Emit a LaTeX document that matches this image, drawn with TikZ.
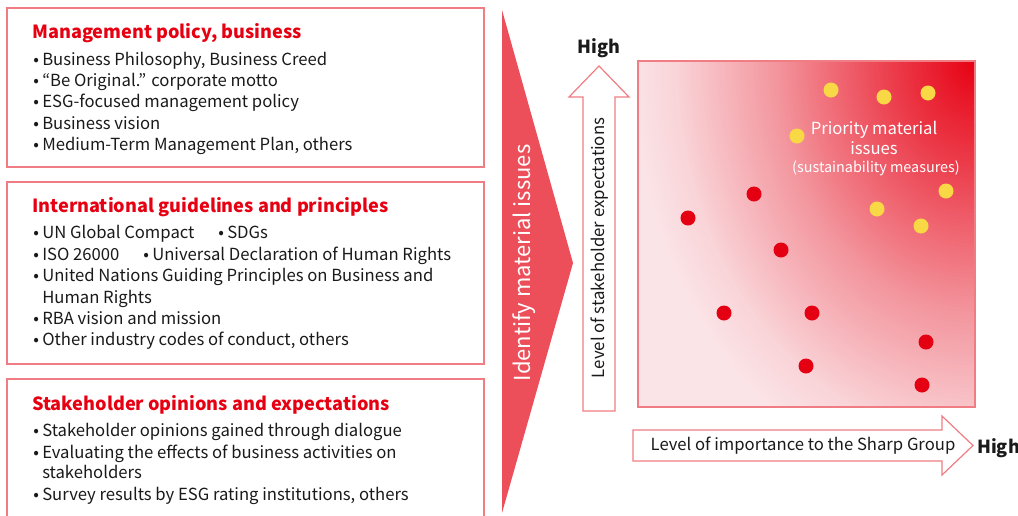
\documentclass[tikz,border=0pt]{standalone}
\usepackage{fontspec}
\setmainfont{Noto Sans CJK JP}
\definecolor{titlered}{RGB}{230,0,18}
\definecolor{boxline}{RGB}{240,125,132}
\definecolor{trifill}{RGB}{236,78,90}
\definecolor{txt}{RGB}{26,26,26}
\definecolor{dotred}{RGB}{228,0,18}
\definecolor{dotyellow}{RGB}{249,216,70}
\definecolor{sA}{RGB}{230,0,18}
\definecolor{sB}{RGB}{237,72,86}
\definecolor{sC}{RGB}{243,150,158}
\definecolor{sD}{RGB}{249,212,216}
\definecolor{sE}{RGB}{251,228,231}
\newcommand\bul{\makebox[6.75pt][l]{•}}
\begin{document}
\begin{tikzpicture}[x=0.75pt,y=-0.75pt,
  box/.style={draw=boxline, line width=0.9pt},
  title/.style={anchor=base west, inner sep=0, text=titlered, font=\fontsize{13.6}{16}\selectfont\bfseries},
  item/.style={anchor=base west, inner sep=0, text=txt, font=\fontsize{12.5}{14}\selectfont},
  reddot/.style={circle, fill=dotred, minimum size=11.25pt, inner sep=0},
  yeldot/.style={circle, fill=dotyellow, minimum size=11.25pt, inner sep=0},
  arrowshape/.style={draw=boxline, line width=0.9pt, fill=white},
  high/.style={inner sep=0, text=txt, font=\fontsize{13.5}{15}\selectfont\bfseries}]
\clip (0,0) rectangle (1018,515);
\fill[white] (0,0) rectangle (1018,515);

% Box 1
\draw[box] (7,8) rectangle (484,167);
\node[title] (t1) at (32,38) {Management policy, business};
\node[item] (a1) at (33,65) {\bul Business Philosophy, Business Creed};
\node[item] (a2) at (33,86) {\bul “Be Original.” corporate motto};
\node[item] (a3) at (33,107) {\bul ESG-focused management policy};
\node[item] (a4) at (33,129) {\bul Business vision};
\node[item] (a5) at (33,150) {\bul Medium-Term Management Plan, others};

% Box 2
\draw[box] (7,182) rectangle (484,364);
\node[title] (t2) at (32,212) {International guidelines and principles};
\node[item] (b1) at (33,238) {\bul UN Global Compact};
\node[item] (b1b) at (218,238) {\bul SDGs};
\node[item] (b2) at (33,260) {\bul ISO 26000};
\node[item] (b2b) at (143,260) {\bul Universal Declaration of Human Rights};
\node[item] (b3) at (33,281) {\bul United Nations Guiding Principles on Business and};
\node[item] (b3b) at (42,303) {Human Rights};
\node[item] (b4) at (33,324) {\bul RBA vision and mission};
\node[item] (b5) at (33,345) {\bul Other industry codes of conduct, others};

% Box 3
\draw[box] (7,379) rectangle (484,530);
\node[title] (t3) at (32,410) {Stakeholder opinions and expectations};
\node[item] (c1) at (33,436) {\bul Stakeholder opinions gained through dialogue};
\node[item] (c2) at (33,458) {\bul Evaluating the effects of business activities on};
\node[item] (c2b) at (42,478) {stakeholders};
\node[item] (c3) at (33,500) {\bul Survey results by ESG rating institutions, others};

% Big triangle
\fill[trifill] (502,10) -- (573,263) -- (502,513) -- cycle;
\node[rotate=90, text=white, inner sep=0, font=\fontsize{16.5}{18}\selectfont] (ident) at (524,263) {Identify material issues};

% Vertical arrow
\draw[arrowshape] (583,411) -- (583,97) -- (569,97) -- (599,66) -- (629,97) -- (615,97) -- (615,411) -- cycle;
\node[high] (hv) at (599,48) {High};
\node[rotate=90, inner sep=0, text=txt, font=\fontsize{12.6}{14}\selectfont] (vlab) at (600,248) {Level of stakeholder expectations};

% Plot area with stepped radial gradient from the top-right corner
\begin{scope}
\clip (638,61) rectangle (975,407);
\fill[sE] (638,61) rectangle (975,407);
\foreach \i in {115,114,...,1} {
  \ifnum\i>100
    \pgfmathtruncatemacro\t{(\i-100)/15*100}\colorlet{cc}{sE!\t!sD}
  \else\ifnum\i>67
    \pgfmathtruncatemacro\t{(\i-67)/33*100}\colorlet{cc}{sD!\t!sC}
  \else\ifnum\i>33
    \pgfmathtruncatemacro\t{(\i-33)/34*100}\colorlet{cc}{sC!\t!sB}
  \else
    \pgfmathtruncatemacro\t{\i/33*100}\colorlet{cc}{sB!\t!sA}
  \fi\fi\fi
  \fill[cc] (975,61) ellipse [x radius=\i*3, y radius=\i*3.8];
}
\end{scope}
\draw[draw=boxline, line width=0.9pt] (638,61) rectangle (975,407);

\node[text=white, align=center, inner sep=0, font=\fontsize{12.5}{15.5}\selectfont] (prio) at (874,138) {Priority material\\issues};
\node[text=white, inner sep=0, font=\fontsize{10.8}{12}\selectfont] (sust) at (876,168) {(sustainability measures)};

% Yellow dots
\node[yeldot] (y1) at (831,90) {};
\node[yeldot] (y2) at (884,97) {};
\node[yeldot] (y3) at (928,93) {};
\node[yeldot] (y4) at (797,136) {};
\node[yeldot] (y5) at (946,191) {};
\node[yeldot] (y6) at (877,209) {};
\node[yeldot] (y7) at (921,226) {};
% Red dots
\node[reddot] (r1) at (688,218) {};
\node[reddot] (r2) at (754,194) {};
\node[reddot] (r3) at (781,250) {};
\node[reddot] (r4) at (724,313) {};
\node[reddot] (r5) at (812,313) {};
\node[reddot] (r6) at (926,342) {};
\node[reddot] (r7) at (806,366) {};
\node[reddot] (r8) at (922,385) {};

% Horizontal arrow
\draw[arrowshape] (633,430) -- (942,430) -- (942,416) -- (973,445.5) -- (942,475) -- (942,461) -- (633,461) -- cycle;
\node[inner sep=0, text=txt, font=\fontsize{12.5}{14}\selectfont] (hlab) at (803,445.5) {Level of importance to the Sharp Group};
\node[high, anchor=west] (hh) at (977,448) {High};
\end{tikzpicture}
\end{document}
